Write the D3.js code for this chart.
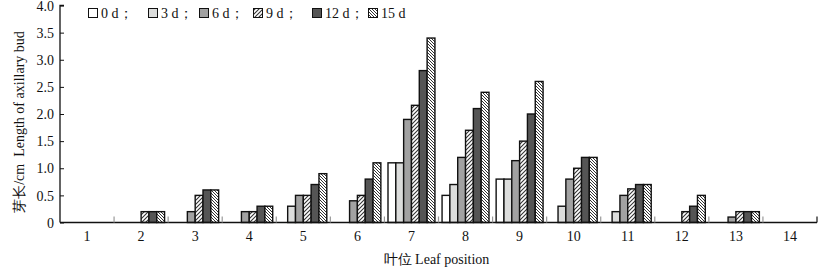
<!DOCTYPE html>
<html><head><meta charset="utf-8">
<script src="https://cdn.jsdelivr.net/npm/d3@7"></script>
<style>
html,body{margin:0;padding:0;background:#fff;}
svg text{font-family:"Liberation Serif","Times New Roman",serif;fill:#111;}
</style></head>
<body><svg id="c" width="825" height="270"></svg>
<script>
const categories = ["1","2","3","4","5","6","7","8","9","10","11","12","13","14"];
const seriesNames = ["0 d","3 d","6 d","9 d","12 d","15 d"];
const d0  = [0,0,0,0,0,0,1.1,0.5,0.8,0,0,0,0,0];
const d3v = [0,0,0,0,0.3,0,1.1,0.7,0.8,0.3,0.2,0,0,0];
const d6  = [0,0,0.2,0.2,0.5,0.4,1.9,1.2,1.14,0.8,0.5,0,0.1,0];
const d9  = [0,0.2,0.5,0.2,0.5,0.5,2.16,1.7,1.5,1.0,0.62,0.2,0.2,0];
const d12 = [0,0.2,0.6,0.3,0.7,0.8,2.8,2.1,2.0,1.2,0.7,0.3,0.2,0];
const d15 = [0,0.2,0.6,0.3,0.9,1.1,3.4,2.4,2.6,1.2,0.7,0.5,0.2,0];
const yTicks = [0,0.5,1.0,1.5,2.0,2.5,3.0,3.5,4.0];
const yTickLabels = ["0","0.5","1.0","1.5","2.0","2.5","3.0","3.5","4.0"];
const yLabel = "芽长/cm  Length of axillary bud";
const xLabel = "叶位 Leaf position";

const seriesValues = [d0,d3v,d6,d9,d12,d15];
const fills = ["#ffffff","#dcdddc","#a2a2a2","url(#hatch9)","#555555","url(#hatch15)"];
// legend layout (pixel offsets of each legend swatch)
const legendLayoutX = [88,148,199,253,312,368];

const svg = d3.select("#c");
const defs = svg.append("defs");
const p9 = defs.append("pattern").attr("id","hatch9").attr("patternUnits","userSpaceOnUse")
  .attr("width",4).attr("height",4);
p9.append("rect").attr("width",4).attr("height",4).attr("fill","#fff");
p9.append("path").attr("d","M-1,1 l2,-2 M0,4 l4,-4 M3,5 l2,-2").attr("stroke","#333").attr("stroke-width",1.1);
const p15 = defs.append("pattern").attr("id","hatch15").attr("patternUnits","userSpaceOnUse")
  .attr("width",3).attr("height",3);
p15.append("rect").attr("width",3).attr("height",3).attr("fill","#fff");
p15.append("path").attr("d","M-1,2 l2,2 M0,0 l3,3 M2,-1 l2,2").attr("stroke","#333").attr("stroke-width",1);

const mLeft = 60, mRight = 817, mTop = 5.5, mBottom = 222.5;
const x0 = d3.scaleBand().domain(categories).range([mLeft,mRight]).paddingInner(0).paddingOuter(0);
const bw = x0.bandwidth();
const x1 = d3.scaleBand().domain(seriesNames).range([bw*0.066, bw*0.934]).padding(0);
const y = d3.scaleLinear().domain([0,4]).range([mBottom, mTop]);

// bars
const g = svg.append("g");
seriesNames.forEach((s,si)=>{
  g.selectAll(null).data(categories.map((c,i)=>({c, v: seriesValues[si][i]})).filter(d=>d.v>0))
   .enter().append("rect")
   .attr("x", d=>x0(d.c)+x1(s))
   .attr("width", x1.bandwidth())
   .attr("y", d=>y(d.v))
   .attr("height", d=>y(0)-y(d.v))
   .attr("fill", fills[si])
   .attr("stroke","#111").attr("stroke-width",1.4);
});

// y axis
const yAxis = d3.axisRight(y).tickValues(yTicks).tickSize(4).tickFormat((d,i)=>yTickLabels[i]);
const ya = svg.append("g").attr("transform",`translate(${mLeft},0)`).call(yAxis);
ya.select(".domain").attr("d",`M4,${mTop}H0V${mBottom}`).attr("stroke","#111").attr("stroke-width",1.3).attr("fill","none");
ya.selectAll(".tick line").attr("stroke","#111").attr("stroke-width",1);
ya.selectAll(".tick text").attr("x",-6).attr("text-anchor","end").attr("font-size",14)
  .attr("font-family","Liberation Serif").attr("dy","0.33em");

// x axis
const xa = svg.append("g").attr("transform",`translate(0,${mBottom})`);
xa.append("line").attr("x1",mLeft).attr("x2",mRight).attr("y1",0).attr("y2",0).attr("stroke","#111").attr("stroke-width",1.4);
xa.append("line").attr("x1",mRight).attr("x2",mRight).attr("y1",0).attr("y2",-6).attr("stroke","#111").attr("stroke-width",1.2);
xa.selectAll(".bt").data(categories.slice(1)).enter().append("line")
  .attr("x1",d=>x0(d)).attr("x2",d=>x0(d)).attr("y1",0).attr("y2",-6)
  .attr("stroke","#999").attr("stroke-width",1.2);
xa.selectAll(".lbl").data(categories).enter().append("text")
  .attr("x",d=>x0(d)+bw/2).attr("y",18).attr("text-anchor","middle").attr("font-size",14).text(d=>d);

// x label
svg.append("text").attr("x",(mLeft+mRight)/2-2).attr("y",264).attr("text-anchor","middle")
  .attr("font-size",14).text(xLabel);
// y label
svg.append("text").attr("transform",`translate(24,122) rotate(-90)`)
  .attr("text-anchor","middle").attr("font-size",14).attr("xml:space","preserve").text(yLabel);

// legend
const lg = svg.append("g");
seriesNames.forEach((s,i)=>{
  const lx = legendLayoutX[i];
  lg.append("rect").attr("x",lx+0.5).attr("y",8.5).attr("width",9).attr("height",9)
    .attr("fill",fills[i]).attr("stroke","#111").attr("stroke-width",1);
  lg.append("text").attr("x",lx+13).attr("y",18).attr("font-size",14)
    .text(s + (i<seriesNames.length-1 ? "；" : ""));
});
</script></body></html>
